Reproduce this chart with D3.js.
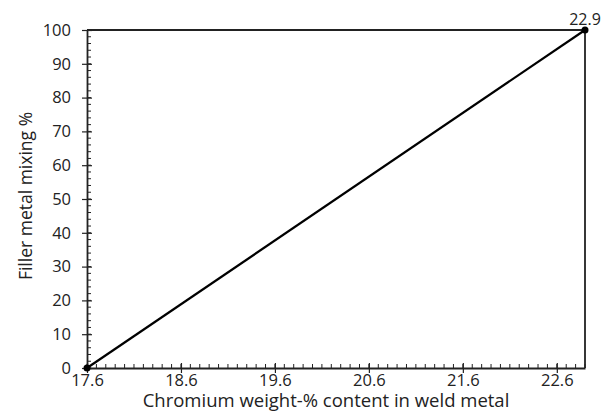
<!DOCTYPE html>
<html lang="en">
  <head>
    <meta charset="UTF-8" />
    <script src="https://d3js.org/d3.v7.min.js"></script>
    <title>Filler metal mixing</title>
    <style>
      body { margin: 0; background: #fff; font-family: "Open Sans", sans-serif; }
    </style>
  </head>
  <body>
    <svg width="601" height="412"></svg>
    <script>
      // data
      const chromium = [17.6, 22.9];
      const mixing = [0, 100];
      const xTickValues = [17.6, 18.6, 19.6, 20.6, 21.6, 22.6];
      const yTickValues = [0, 10, 20, 30, 40, 50, 60, 70, 80, 90, 100];
      const pointLabel = "22.9";

      const mLeft = 87, mRight = 585, mTop = 30, mBottom = 368;
      const svg = d3.select("svg");

      const x = d3.scaleLinear().domain([17.6, 22.9]).range([mLeft, mRight]);
      const y = d3.scaleLinear().domain([0, 100]).range([mBottom, mTop]);

      // frame (top and right)
      svg.append("path")
        .attr("d", `M${mLeft},${mTop}H${mRight}V${mBottom}`)
        .attr("fill", "none").attr("stroke", "#222").attr("stroke-width", 1.8);

      // minor ticks
      const xMinor = d3.range(176, 230, 1).map(d => d / 10);
      svg.append("g").selectAll("line").data(xMinor).enter().append("line")
        .attr("x1", d => x(d)).attr("x2", d => x(d))
        .attr("y1", mBottom).attr("y2", mBottom - 4)
        .attr("stroke", "#222").attr("stroke-width", 1);
      const yMinor = d3.range(0, 101, 2);
      svg.append("g").selectAll("line").data(yMinor).enter().append("line")
        .attr("x1", mLeft).attr("x2", mLeft + 4)
        .attr("y1", d => y(d)).attr("y2", d => y(d))
        .attr("stroke", "#222").attr("stroke-width", 1);

      // axes
      const xAxis = svg.append("g")
        .attr("transform", `translate(0,${mBottom})`)
        .call(d3.axisBottom(x).tickValues(xTickValues).tickSizeInner(5).tickSizeOuter(0).tickFormat(d3.format(".1f")));
      const yAxis = svg.append("g")
        .attr("transform", `translate(${mLeft},0)`)
        .call(d3.axisLeft(y).tickValues(yTickValues).tickSizeInner(5).tickSizeOuter(0));

      [xAxis, yAxis].forEach(g => {
        g.select(".domain").attr("stroke", "#222").attr("stroke-width", 1.8);
        g.selectAll(".tick line").attr("stroke", "#222").attr("stroke-width", 1.2);
        g.selectAll("text").attr("fill", "#222")
          .style("font-family", "'Open Sans', sans-serif");
      });
      // major ticks cross the axis
      xAxis.selectAll(".tick line").attr("y1", -5);
      yAxis.selectAll(".tick line").attr("x1", 5);
      xAxis.selectAll("text").attr("y", 18).attr("dy", 0).style("font-size", "16.5px");
      yAxis.selectAll("text").attr("x", -16).style("font-size", "16.5px");

      // line
      const pts = chromium.map((c, i) => [c, mixing[i]]);
      svg.append("path")
        .datum(pts)
        .attr("fill", "none").attr("stroke", "#000").attr("stroke-width", 2.2)
        .attr("d", d3.line().x(d => x(d[0])).y(d => y(d[1])));

      svg.selectAll(".pt").data(pts).enter().append("circle")
        .attr("class", "pt")
        .attr("cx", d => x(d[0])).attr("cy", d => y(d[1])).attr("r", 3.5)
        .attr("fill", "#000");

      svg.append("text")
        .attr("x", x(chromium[1])).attr("y", y(mixing[1]) - 5)
        .attr("text-anchor", "middle")
        .style("font-size", "16px").attr("fill", "#222")
        .text(pointLabel);

      // axis titles
      svg.append("text")
        .attr("x", 326).attr("y", 407)
        .attr("text-anchor", "middle")
        .style("font-size", "18.5px").attr("fill", "#222")
        .text("Chromium weight-% content in weld metal");
      svg.append("text")
        .attr("transform", `translate(32,196) rotate(-90)`)
        .attr("text-anchor", "middle")
        .style("font-size", "17.5px").attr("fill", "#222")
        .text("Filler metal mixing %");
    </script>
  </body>
</html>
